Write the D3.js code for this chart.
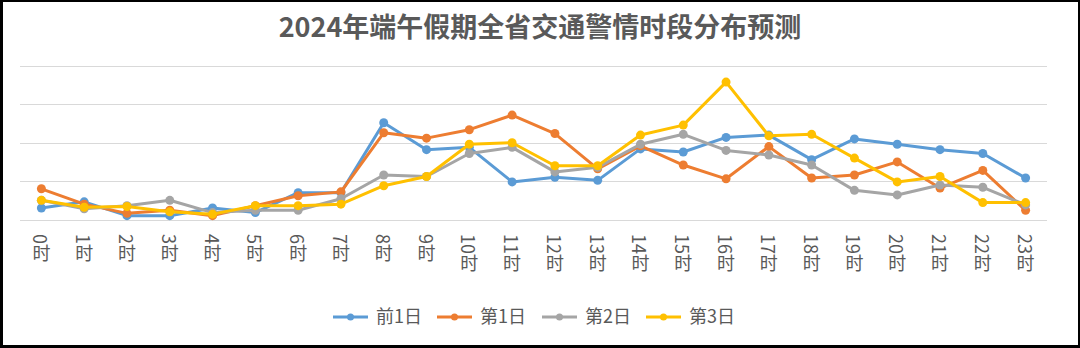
<!DOCTYPE html>
<html>
<head>
<meta charset="utf-8">
<script src="https://cdn.jsdelivr.net/npm/d3@7"></script>
<style>
  html, body { margin: 0; padding: 0; background: #000; }
  svg { display: block; }
  text { font-family: "Noto Sans CJK SC", "Noto Sans", sans-serif; }
</style>
</head>
<body>
<svg id="chart" width="1080" height="348"></svg>
<script>
// Hourly categories (0时 … 23时)
const hours = ["0时","1时","2时","3时","4时","5时","6时","7时","8时","9时","10时","11时",
               "12时","13时","14时","15时","16时","17时","18时","19时","20时","21时","22时","23时"];

// Series names shown in the legend
const seriesNames = ["前1日", "第1日", "第2日", "第3日"];

// Predicted incident counts per hour for each day
const dayBefore = [15, 23, 5, 5, 15, 9, 35, 35, 126, 91, 94, 49, 55, 51, 92, 88, 107, 110, 78, 105, 98, 91, 86, 54];
const day1      = [40, 20, 8, 12, 5, 18, 31, 36, 113, 106, 117, 136, 112, 66, 96, 71, 53, 95, 54, 58, 75, 41, 64, 12];
const day2      = [25, 14, 18, 25, 9, 12, 12, 27, 58, 56, 86, 94, 62, 68, 98, 111, 90, 84, 71, 38, 32, 45, 42, 19];
const day3      = [25, 16, 17, 10, 7, 18, 18, 20, 44, 56, 98, 100, 70, 70, 110, 123, 179, 109, 111, 80, 49, 56, 22, 22];

// Gridline values
const gridTicks = [0, 50, 100, 150, 200];

const seriesValues = [dayBefore, day1, day2, day3];
const colors = ["#5B9BD5", "#ED7D31", "#A5A5A5", "#FFC000"];

const svg = d3.select("#chart");

// Outer black frame with white chart area
svg.append("rect").attr("x", 0).attr("y", 0).attr("width", 1080).attr("height", 348).attr("fill", "#000");
svg.append("rect").attr("x", 3).attr("y", 2).attr("width", 1075).attr("height", 343).attr("fill", "#fff");

const x = d3.scalePoint().domain(hours).range([20, 1047]).padding(0.5);
const y = d3.scaleLinear().domain([0, 200]).range([219.5, 66]);

// Title
svg.append("text")
  .attr("x", 540).attr("y", 37)
  .attr("text-anchor", "middle")
  .attr("font-size", 27)
  .attr("font-weight", "bold")
  .attr("fill", "#595959")
  .text("2024年端午假期全省交通警情时段分布预测");

// Horizontal gridlines
svg.append("g")
  .selectAll("line")
  .data(gridTicks)
  .join("line")
  .attr("x1", 20).attr("x2", 1047)
  .attr("y1", d => Math.round(y(d)) + 0.5)
  .attr("y2", d => Math.round(y(d)) + 0.5)
  .attr("stroke", "#D9D9D9")
  .attr("stroke-width", 1);

// Vertical category labels
svg.append("g")
  .selectAll("text")
  .data(hours)
  .join("text")
  .attr("x", d => x(d))
  .attr("y", 234)
  .style("writing-mode", "vertical-rl")
  .attr("font-size", 18)
  .attr("fill", "#595959")
  .text(d => d);

// Series lines and markers
const line = d3.line()
  .x((d, i) => x(hours[i]))
  .y(d => y(d));

seriesValues.forEach((vals, si) => {
  const g = svg.append("g");
  g.append("path")
    .datum(vals)
    .attr("d", line)
    .attr("fill", "none")
    .attr("stroke", colors[si])
    .attr("stroke-width", 3)
    .attr("stroke-linejoin", "round")
    .attr("stroke-linecap", "round");
  g.selectAll("circle")
    .data(vals)
    .join("circle")
    .attr("cx", (d, i) => x(hours[i]))
    .attr("cy", d => y(d))
    .attr("r", 4.5)
    .attr("fill", colors[si]);
});

// Legend
const legendStarts = [333, 437, 542, 646];
const legendY = 317;
const legend = svg.append("g");
seriesNames.forEach((name, i) => {
  const lx = legendStarts[i];
  legend.append("line")
    .attr("x1", lx).attr("x2", lx + 35)
    .attr("y1", legendY).attr("y2", legendY)
    .attr("stroke", colors[i]).attr("stroke-width", 3);
  legend.append("circle")
    .attr("cx", lx + 17.5).attr("cy", legendY).attr("r", 3.5)
    .attr("fill", colors[i]);
  legend.append("text")
    .attr("x", lx + 43).attr("y", legendY + 6)
    .attr("font-size", 18)
    .attr("fill", "#595959")
    .text(name);
});
</script>
</body>
</html>
